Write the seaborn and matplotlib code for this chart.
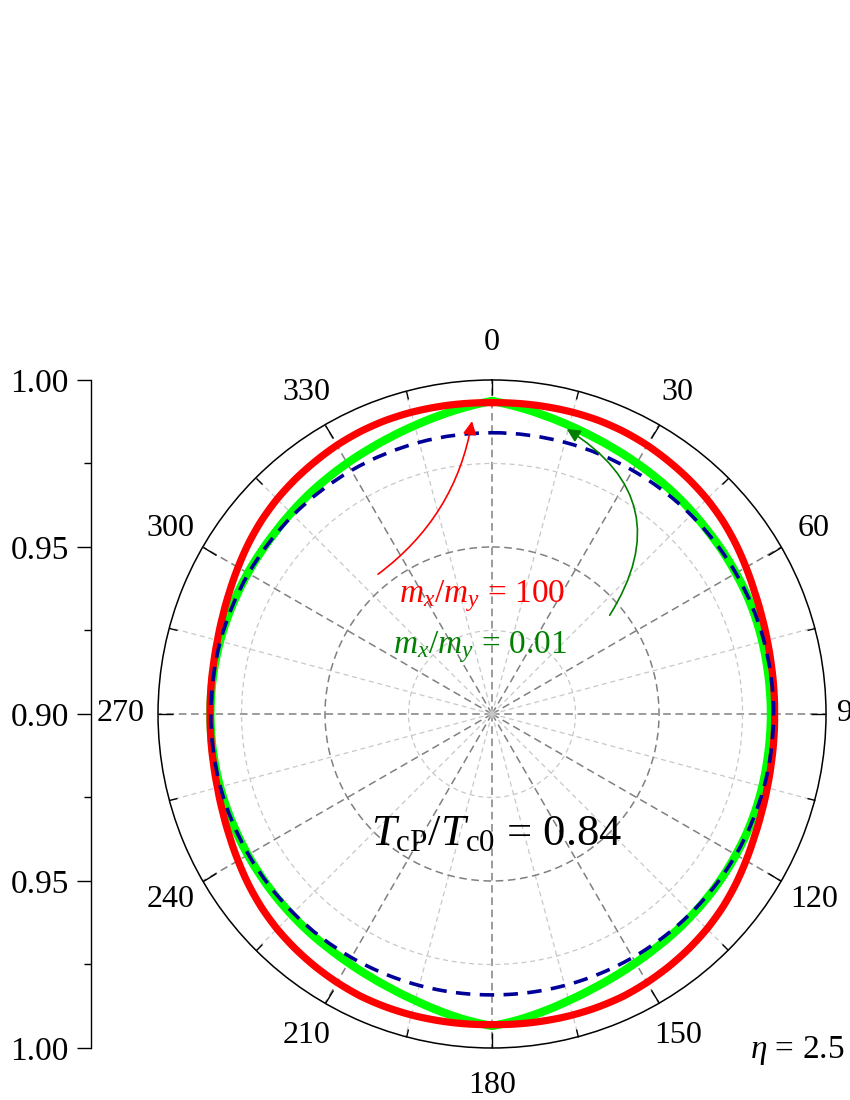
import numpy as np
import pandas as pd
import matplotlib
matplotlib.use("Agg")
import matplotlib.pyplot as plt
import matplotlib.transforms as mtransforms
import seaborn as sns

# ---------------- data ----------------
theta_deg = [0, 5, 10, 15, 20, 25, 30, 35, 40, 45, 50, 55, 60, 65, 70, 75, 80, 85, 90,
             95, 100, 105, 110, 115, 120, 125, 130, 135, 140, 145, 150, 155, 160, 165, 170, 175, 180,
             185, 190, 195, 200, 205, 210, 215, 220, 225, 230, 235, 240, 245, 250, 255, 260, 265, 270,
             275, 280, 285, 290, 295, 300, 305, 310, 315, 320, 325, 330, 335, 340, 345, 350, 355, 360]

# m_x/m_y = 100 (red)
red_r = [0.9932, 0.9933, 0.9934, 0.9935, 0.9935, 0.9933, 0.9929, 0.9923, 0.9917, 0.9910, 0.9901,
         0.9890, 0.9878, 0.9867, 0.9859, 0.9853, 0.9849, 0.9847, 0.9846,
         0.9847, 0.9849, 0.9853, 0.9859, 0.9867, 0.9878, 0.9890, 0.9901, 0.9910, 0.9917, 0.9923,
         0.9928, 0.9932, 0.9933, 0.9933, 0.9932, 0.9931, 0.9930,
         0.9931, 0.9932, 0.9933, 0.9933, 0.9932, 0.9928, 0.9923, 0.9917, 0.9910, 0.9901, 0.9890,
         0.9878, 0.9867, 0.9858, 0.9851, 0.9847, 0.9845, 0.9844,
         0.9845, 0.9847, 0.9851, 0.9858, 0.9867, 0.9878, 0.9890, 0.9901, 0.9910, 0.9917, 0.9923,
         0.9929, 0.9933, 0.9935, 0.9935, 0.9934, 0.9933, 0.9932]

# m_x/m_y = 0.01 (green)
green_r = [0.9937, 0.9922, 0.9907, 0.9894, 0.9883, 0.9874, 0.9867, 0.9861, 0.9856, 0.9851, 0.9847,
           0.9845, 0.9843, 0.9842, 0.9840, 0.9838, 0.9836, 0.9835, 0.9835,
           0.9835, 0.9836, 0.9838, 0.9840, 0.9842, 0.9843, 0.9845, 0.9847, 0.9849, 0.9852, 0.9855,
           0.9860, 0.9867, 0.9876, 0.9888, 0.9903, 0.9919, 0.9934,
           0.9919, 0.9903, 0.9888, 0.9876, 0.9867, 0.9860, 0.9855, 0.9852, 0.9849, 0.9847, 0.9845,
           0.9844, 0.9843, 0.9843, 0.9843, 0.9843, 0.9843, 0.9843,
           0.9843, 0.9843, 0.9843, 0.9843, 0.9843, 0.9844, 0.9845, 0.9847, 0.9851, 0.9856, 0.9861,
           0.9867, 0.9874, 0.9883, 0.9894, 0.9907, 0.9922, 0.9937]

# reference (dashed, navy)
dash_theta_deg = [0, 30, 60, 90, 120, 150, 180, 210, 240, 270, 300, 330, 360]
dash_r = [0.9842, 0.9842, 0.9843, 0.9843, 0.9843, 0.9842, 0.9841, 0.9842, 0.9842, 0.9842,
          0.9842, 0.9842, 0.9842]

angle_ticks = [0, 30, 60, 90, 120, 150, 180, 210, 240, 270, 300, 330]
angle_labels = ["0", "30", "60", "90", "120", "150", "180", "210", "240", "270", "300", "330"]
angle_minor = [15, 45, 75, 105, 135, 165, 195, 225, 255, 285, 315, 345]

left_pos = [-0.10, -0.05, 0.0, 0.05, 0.10]
left_labels = ["1.00", "0.95", "0.90", "0.95", "1.00"]
left_minor = [-0.075, -0.025, 0.025, 0.075]

# ---------------- style ----------------
sns.set_theme(style="white")
plt.rcParams["font.family"] = ["Liberation Serif", "DejaVu Serif"]
plt.rcParams["mathtext.fontset"] = "custom"
plt.rcParams["mathtext.rm"] = "Liberation Serif"
plt.rcParams["mathtext.it"] = "Liberation Serif:italic"
plt.rcParams["mathtext.bf"] = "Liberation Serif:bold"
plt.rcParams["axes.unicode_minus"] = False
for key in ["text.color", "axes.labelcolor", "xtick.color", "ytick.color"]:
    plt.rcParams[key] = "black"

fig = plt.figure(figsize=(8.5, 11), dpi=100)
fig.patch.set_facecolor("white")

ax = fig.add_axes([0.1859, 0.04727, 0.7859, 0.6073], projection="polar")
ax.set_facecolor("white")
ax.set_theta_zero_location("N")
ax.set_theta_direction(-1)

df_green = pd.DataFrame({"theta": np.deg2rad(theta_deg), "r": green_r})
df_red = pd.DataFrame({"theta": np.deg2rad(theta_deg), "r": red_r})
df_dash = pd.DataFrame({"theta": np.deg2rad(dash_theta_deg), "r": dash_r})

sns.lineplot(data=df_green, x="theta", y="r", ax=ax, color="#00ff00", lw=6,
             sort=False, zorder=3)
sns.lineplot(data=df_red, x="theta", y="r", ax=ax, color="#ff0000", lw=5.2,
             sort=False, zorder=4)
sns.lineplot(data=df_dash, x="theta", y="r", ax=ax, color="#000099", lw=2.6,
             sort=False, zorder=5)
ax.lines[-1].set_dashes([4, 2.6])
# draw segments between points along polar arcs
for ln in ax.lines:
    ln.get_path()._interpolation_steps = 40

ax.set_rlim(0.9, 1.0)
ax.set_xlabel("")
ax.set_ylabel("")

ax.set_xticks(np.deg2rad(angle_ticks))
ax.set_xticklabels(angle_labels, fontsize=23)
ax.set_xticks(np.deg2rad(angle_minor), minor=True)
ax.set_yticks([0.95])
ax.set_yticks([0.925, 0.975], minor=True)
ax.set_yticklabels([])

ax.grid(which="major", axis="both", color="#808080", linestyle=(0, (5, 3)), lw=1.1)
ax.grid(which="minor", axis="both", color="#c8c8c8", linestyle=(0, (4, 3)), lw=0.9)
ax.tick_params(axis="x", which="major", bottom=False, top=True, labelbottom=True,
               labeltop=False, direction="in", length=11, width=1, color="black", pad=20)
ax.tick_params(axis="x", which="minor", bottom=False, top=True, direction="in", length=6,
               width=1, color="black")
ax.tick_params(axis="y", which="both", length=0, left=False, right=False)
ax.spines["polar"].set_color("black")
ax.spines["polar"].set_linewidth(1.1)

# annotations
ax.annotate("", xy=(np.deg2rad(356.1), 0.9879), xytext=(np.deg2rad(320.8), 0.954),
            arrowprops=dict(arrowstyle="-|>", color="#ff0000", lw=1.2, mutation_scale=20,
                            connectionstyle="arc3,rad=0.2", shrinkA=0, shrinkB=0), zorder=6)
ax.annotate("", xy=(np.deg2rad(14.7), 0.9882), xytext=(np.deg2rad(50), 0.946),
            arrowprops=dict(arrowstyle="-|>", color="#007f00", lw=1.2, mutation_scale=20,
                            connectionstyle="arc3,rad=0.5", shrinkA=0, shrinkB=0), zorder=6)

ax.text(0.485, 0.677, r"$m_x/m_y$ = 100", transform=ax.transAxes, color="#ff0000",
        fontsize=24, ha="center", va="center", zorder=7)
ax.text(0.482, 0.600, r"$m_x/m_y$ = 0.01", transform=ax.transAxes, color="#008000",
        fontsize=24, ha="center", va="center", zorder=7)
ax.text(0.506, 0.3204, r"$T_{\rm cP}/T_{\rm c0}$ = 0.84", transform=ax.transAxes,
        color="black", fontsize=32, ha="center", va="center", zorder=7)
fig.text(0.9376, 0.04545, r"$\eta$ = 2.5", color="black", fontsize=24,
         ha="center", va="center")

# left linear axis
lax = fig.add_axes([0.10706, 0.04727, 0.02, 0.6073])
lax.set_facecolor("none")
for s in ["top", "right", "bottom"]:
    lax.spines[s].set_visible(False)
lax.spines["left"].set_color("black")
lax.spines["left"].set_linewidth(1)
lax.set_ylim(-0.1, 0.1)
lax.set_xticks([])
lax.set_yticks(left_pos)
lax.set_yticklabels(left_labels, fontsize=24)
lax.set_yticks(left_minor, minor=True)
lax.tick_params(axis="y", which="major", left=True, direction="out", length=10,
                width=1, color="black", pad=6)
lax.tick_params(axis="y", which="minor", left=True, direction="out", length=5,
                width=1, color="black")

# pull the "90" label a little closer to the circle, as in the reference
fig.canvas.draw()
for tick in ax.xaxis.get_major_ticks():
    if tick.label1.get_text() == "90":
        tick.label1.set_transform(tick.label1.get_transform() +
                                  mtransforms.ScaledTranslation(-0.11, 0, fig.dpi_scale_trans))

fig.savefig("out.png", dpi=100)
